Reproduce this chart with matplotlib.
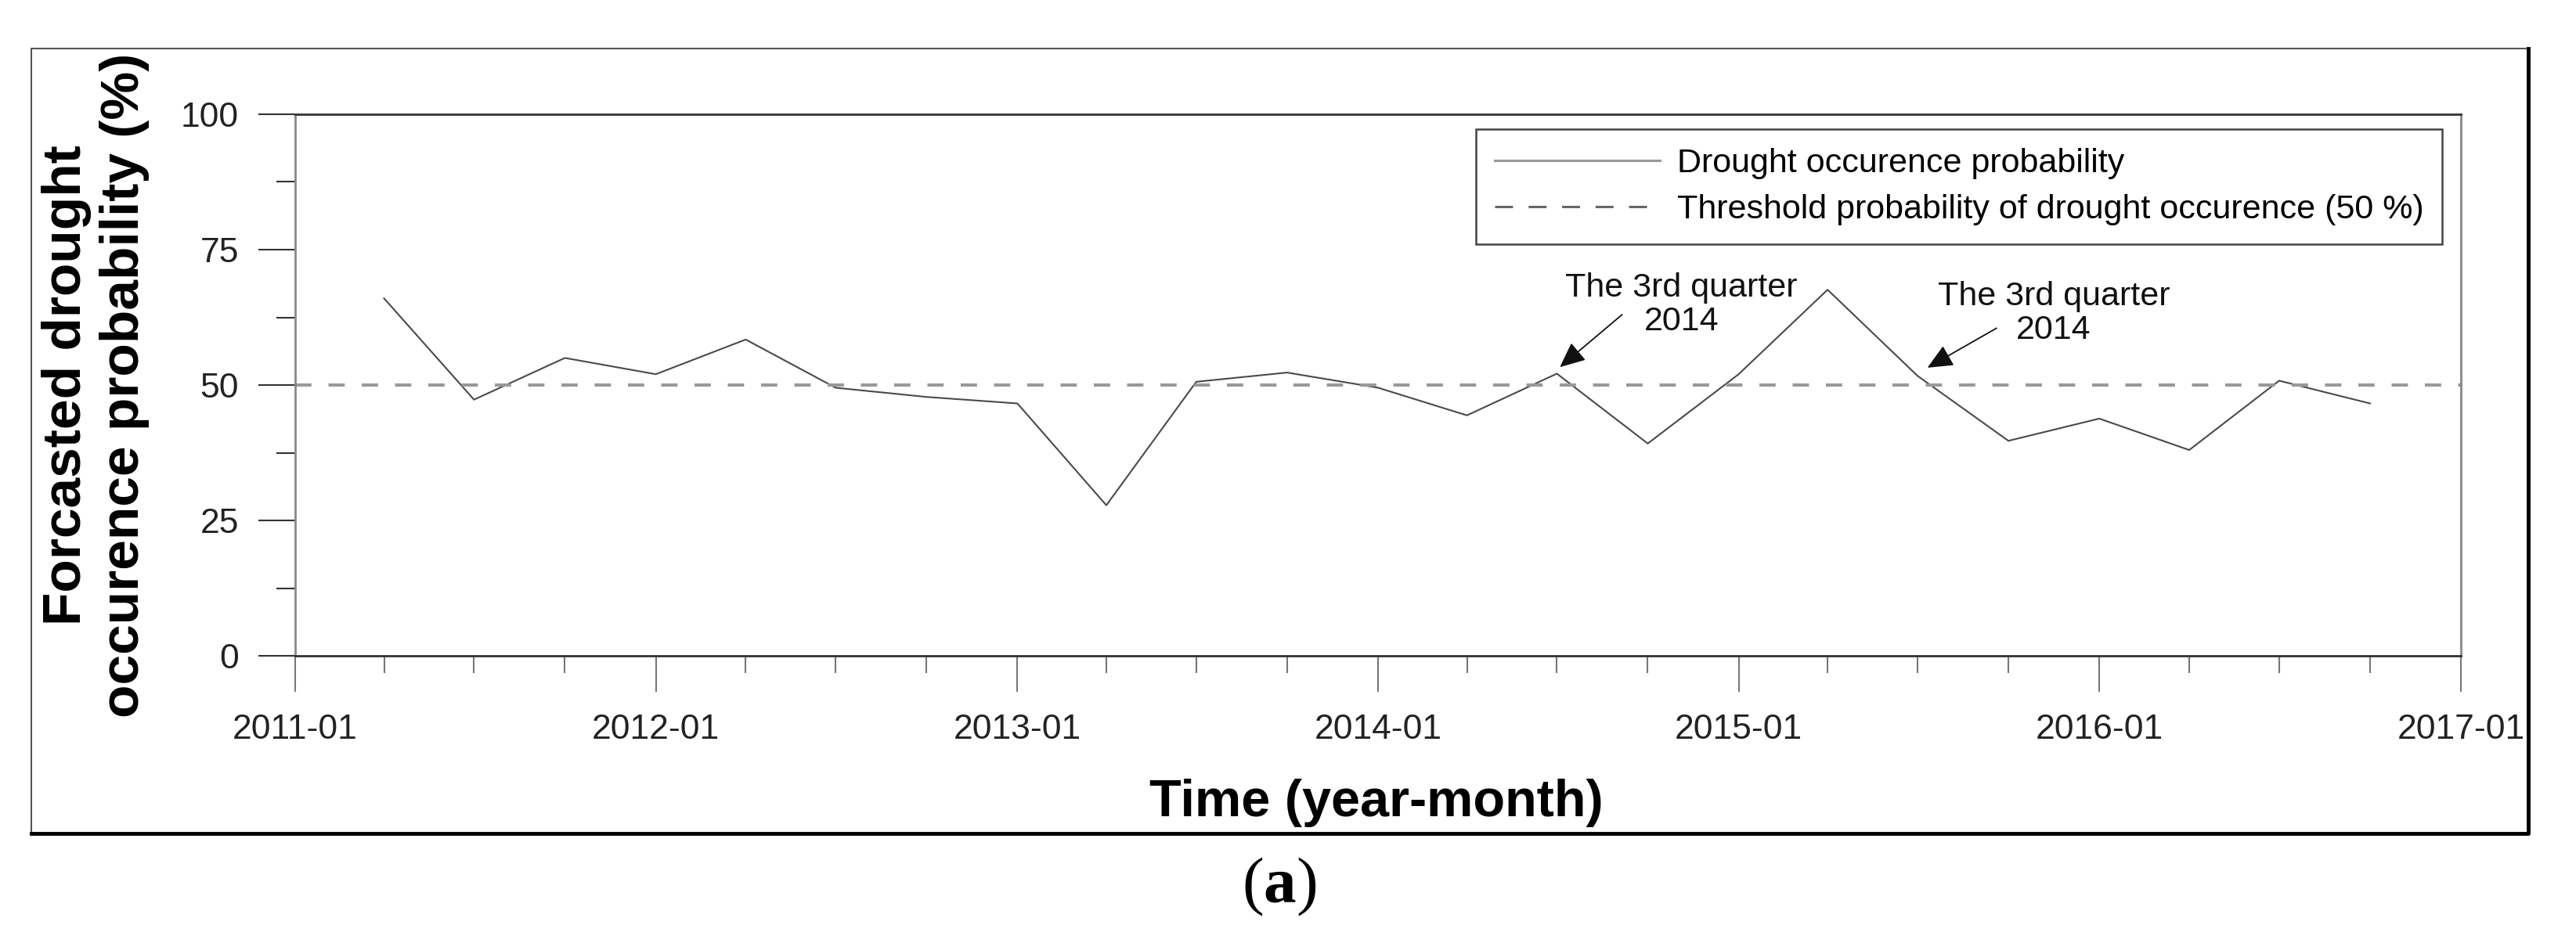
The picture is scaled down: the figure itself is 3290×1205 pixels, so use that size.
import datetime as dt

import matplotlib.pyplot as plt
import matplotlib.dates as mdates
from matplotlib.lines import Line2D

plt.rcParams['font.family'] = ['Liberation Sans', 'DejaVu Sans']
plt.rcParams['mathtext.fontset'] = 'custom'
plt.rcParams['mathtext.bf'] = 'Liberation Serif:bold'

# quarterly forecast, 2011-04 .. 2016-10
dates = [dt.date(y, m, 1) for y in range(2011, 2017) for m in (1, 4, 7, 10)][1:]
probability = [66.0, 47.3, 55.0, 52.0, 58.4, 49.5, 47.8, 46.6, 27.8, 50.6, 52.3, 49.5,
               44.4, 52.1, 39.2, 52.0, 67.6, 51.7, 39.7, 43.8, 38.0, 50.8, 46.6]
threshold = 50

legend_labels = ['Drought occurence probability',
                 'Threshold probability of drought occurence (50 %)']
note_text = 'The 3rd quarter\n2014'
notes = [
    # (arrow tip, arrow tail, text centre)
    ((dt.date(2014, 7, 4), 53.3), (dt.date(2014, 9, 5), 63.0), (dt.date(2014, 11, 4), 64.8)),
    ((dt.date(2015, 7, 11), 53.2), (dt.date(2015, 9, 19), 60.5), (dt.date(2015, 11, 16), 63.2)),
]

fig = plt.figure(figsize=(32.91, 12.05), dpi=100)
ax = fig.add_axes([0.11455, 0.30456, 0.84048, 0.57428])

ax.plot(dates, probability, color='#4a4a4a', lw=1.5)
ax.axhline(threshold, color='#999999', lw=3, linestyle=(0, (5, 5.2)))

for tip, tail, txt in notes:
    ax.annotate('', xy=tip, xytext=tail,
                arrowprops=dict(arrowstyle='-|>,head_length=2.0,head_width=0.9',
                                color='#111111', lw=1.3, shrinkA=0, shrinkB=0))
    ax.text(txt[0], txt[1], note_text, ha='center', va='center', fontsize=31,
            linespacing=1.1, color='#111111')

ax.set_xlim(dt.date(2011, 1, 1), dt.date(2017, 1, 1))
ax.set_ylim(0, 100)
ax.xaxis.set_major_locator(mdates.YearLocator())
ax.xaxis.set_major_formatter(mdates.DateFormatter('%Y-%m'))
ax.xaxis.set_minor_locator(mdates.MonthLocator(bymonth=[4, 7, 10]))
ax.set_yticks([0, 25, 50, 75, 100])
ax.set_yticks([12.5, 37.5, 62.5, 87.5], minor=True)

ax.tick_params(axis='y', which='major', length=34, width=1.5, color='#333333',
               labelsize=32, pad=18, labelcolor='#222222')
ax.tick_params(axis='y', which='minor', length=17, width=1.5, color='#333333')
ax.tick_params(axis='x', which='major', length=33, width=1.5, color='#777777',
               labelsize=32, pad=20, labelcolor='#222222')
ax.tick_params(axis='x', which='minor', length=16, width=1.5, color='#777777')

for side in ('top', 'bottom'):
    ax.spines[side].set_color('#333333')
    ax.spines[side].set_linewidth(2)
for side in ('left', 'right'):
    ax.spines[side].set_color('#888888')
    ax.spines[side].set_linewidth(2)

handles = [Line2D([], [], color='#999999', lw=2.2),
           Line2D([], [], color='#666666', lw=2.2, linestyle=(0, (7.5, 6.5)))]
leg = ax.legend(handles, legend_labels, loc='upper right', bbox_to_anchor=(0.9913, 0.9725),
                fontsize=31, handlelength=4.9, handletextpad=0.5, borderpad=0.55,
                labelspacing=0.45, fancybox=False, framealpha=1, borderaxespad=0)
leg.get_frame().set_edgecolor('#444444')
leg.get_frame().set_linewidth(1.8)

fig.text(0.0371, 0.5917, 'Forcasted drought\noccurence probability (%)', rotation=90,
         ha='center', va='center', fontsize=50, fontweight='bold', linespacing=1.2)
fig.text(0.5342, 0.1344, 'Time (year-month)', ha='center', va='baseline',
         fontsize=48, fontweight='bold')
fig.text(0.4965, 0.0598, r'($\mathbf{a}$)', ha='center', va='center', fontsize=60,
         family=['Liberation Serif', 'DejaVu Serif'])

# frame around the panel
x0, x1 = 40 / 3291, 3229 / 3291
y0, y1 = 1 - 1065 / 1205, 1 - 62 / 1205
fig.add_artist(Line2D([x0, x0, x1], [y0, y1, y1], color='#555555', lw=1.5))
fig.add_artist(Line2D([x0, x1, x1], [y0, y0, y1], color='black', lw=3.5))

fig.savefig('out.png', dpi=100)
